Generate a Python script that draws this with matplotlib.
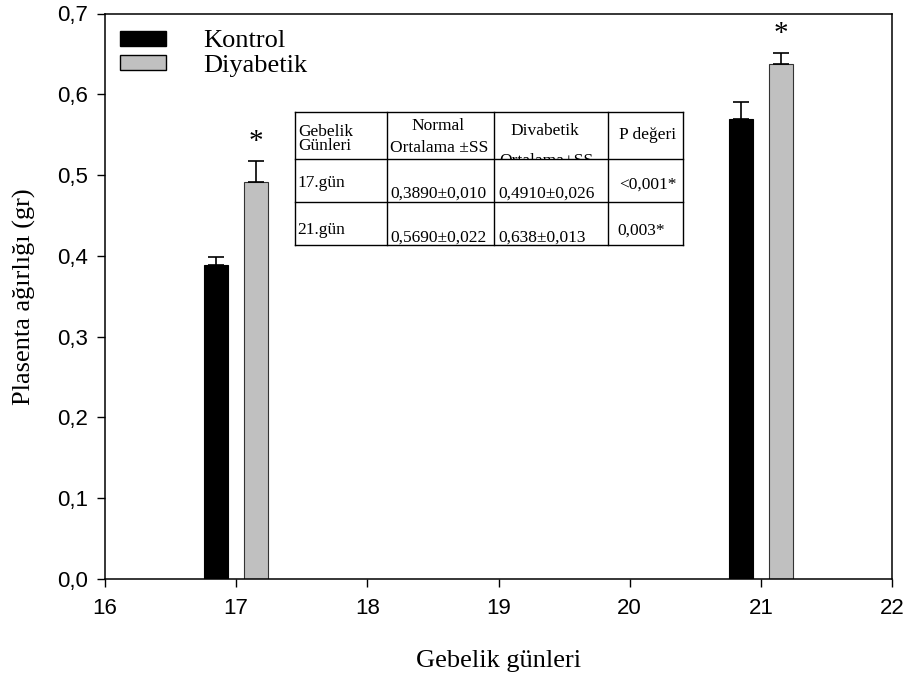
import matplotlib
matplotlib.use("Agg")
import matplotlib.pyplot as plt
from matplotlib.lines import Line2D
from matplotlib.patches import Patch, Rectangle
from matplotlib.ticker import FuncFormatter
import numpy as np

# data
days = [17, 21]
kontrol = [0.389, 0.569]
kontrol_err = [0.010, 0.022]
diyabetik = [0.491, 0.638]
diyabetik_err = [0.026, 0.013]
significant = ["*", "*"]

table_header = ["Gebelik\nGünleri", "Normal", "Ortalama ±SS", "Divabetik", "Ortalama+SS", "P değeri"]
table_rows = [
    ["17.gün", "0,3890±0,010", "0,4910±0,026", "<0,001*"],
    ["21.gün", "0,5690±0,022", "0,638±0,013", "0,003*"],
]

W, H = 909, 679
serif = ["Liberation Serif", "DejaVu Serif"]
sans = ["Liberation Sans", "DejaVu Sans"]

fig = plt.figure(figsize=(W / 100, H / 100), dpi=100)
ax = fig.add_axes([105 / W, 1 - 579 / H, (892 - 105) / W, (579 - 13.5) / H])

x = np.array(days, dtype=float)
off, bw = 0.152, 0.18
ax.bar(x - off, kontrol, bw, color="black", edgecolor="black", linewidth=0.8,
       yerr=[np.zeros(len(kontrol)), kontrol_err], capsize=6,
       error_kw=dict(ecolor="black", elinewidth=1.2, capthick=1.2))
ax.bar(x + off, diyabetik, bw, color="#c0c0c0", edgecolor="#333333", linewidth=0.8,
       yerr=[np.zeros(len(diyabetik)), diyabetik_err], capsize=6,
       error_kw=dict(ecolor="black", elinewidth=1.2, capthick=1.2))

for xi, v, e, s in zip(x, diyabetik, diyabetik_err, significant):
    ax.text(xi + off, v + e + 0.024, s, ha="center", va="center",
            fontsize=21, family=serif)

ax.set_xlim(16, 22)
ax.set_ylim(0, 0.7)
ax.set_xticks(range(16, 23))
ax.set_yticks(np.arange(0, 0.71, 0.1))
ax.yaxis.set_major_formatter(FuncFormatter(lambda v, p: f"{v:.1f}".replace(".", ",")))
ax.tick_params(direction="out", length=6, width=1, labelsize=16)
ax.tick_params(axis="x", pad=8)
ax.tick_params(axis="y", pad=6)
for lab in ax.get_xticklabels() + ax.get_yticklabels():
    lab.set_family(sans)
for sp in ax.spines.values():
    sp.set_linewidth(1.1)

ax.set_xlabel("Gebelik günleri", fontsize=19, family=serif, labelpad=22)
ax.set_ylabel("Plasenta ağırlığı (gr)", fontsize=19, family=serif)
ax.yaxis.set_label_coords(-0.088, 0.5)

handles = [Patch(facecolor="black", edgecolor="black", label="Kontrol"),
           Patch(facecolor="#c0c0c0", edgecolor="black", label="Diyabetik")]
ax.legend(handles=handles, loc="upper left", bbox_to_anchor=(-0.011, 1.012),
          frameon=False, prop={"family": serif, "size": 19},
          handlelength=1.75, handleheight=0.5, handletextpad=1.4, labelspacing=0.1,
          borderpad=0.4)

# table drawn in figure pixels
def fx(px):
    return px / W

def fy(py):
    return 1 - py / H

cols = [295, 387, 494, 608, 683]
rows = [112, 159, 202, 245]
for c in cols:
    fig.add_artist(Line2D([fx(c), fx(c)], [fy(rows[0]), fy(rows[-1])], color="black", lw=1))
for r in rows:
    fig.add_artist(Line2D([fx(cols[0]), fx(cols[-1])], [fy(r), fy(r)], color="black", lw=1))

tk = dict(fontsize=12.5, family=serif, transform=fig.transFigure)
fig.text(fx(298), fy(139), table_header[0], ha="left", va="center", linespacing=0.85, **tk)
fig.text(fx(438), fy(126), table_header[1], ha="center", va="center", **tk)
fig.text(fx(390), fy(148), table_header[2], ha="left", va="center", **tk)
fig.text(fx(545), fy(131), table_header[3], ha="center", va="center", **tk)
t = fig.text(fx(499), fy(161), table_header[4], ha="left", va="center", **tk)
t.set_clip_path(Rectangle((fx(494), fy(158.5)), fx(114), 60 / H, transform=fig.transFigure))
fig.text(fx(648), fy(135), table_header[5], ha="center", va="center", **tk)

row_y = [(183, 194, 185), (230, 238, 231)]
for (ya, yb, yc), row in zip(row_y, table_rows):
    fig.text(fx(297), fy(ya), row[0], ha="left", va="center", **tk)
    fig.text(fx(390), fy(yb), row[1], ha="left", va="center", **tk)
    fig.text(fx(498), fy(yb), row[2], ha="left", va="center", **tk)
    fig.text(fx(619 if row[3][0] == "<" else 617), fy(yc), row[3], ha="left", va="center", **tk)

fig.savefig("out.png", dpi=100)
